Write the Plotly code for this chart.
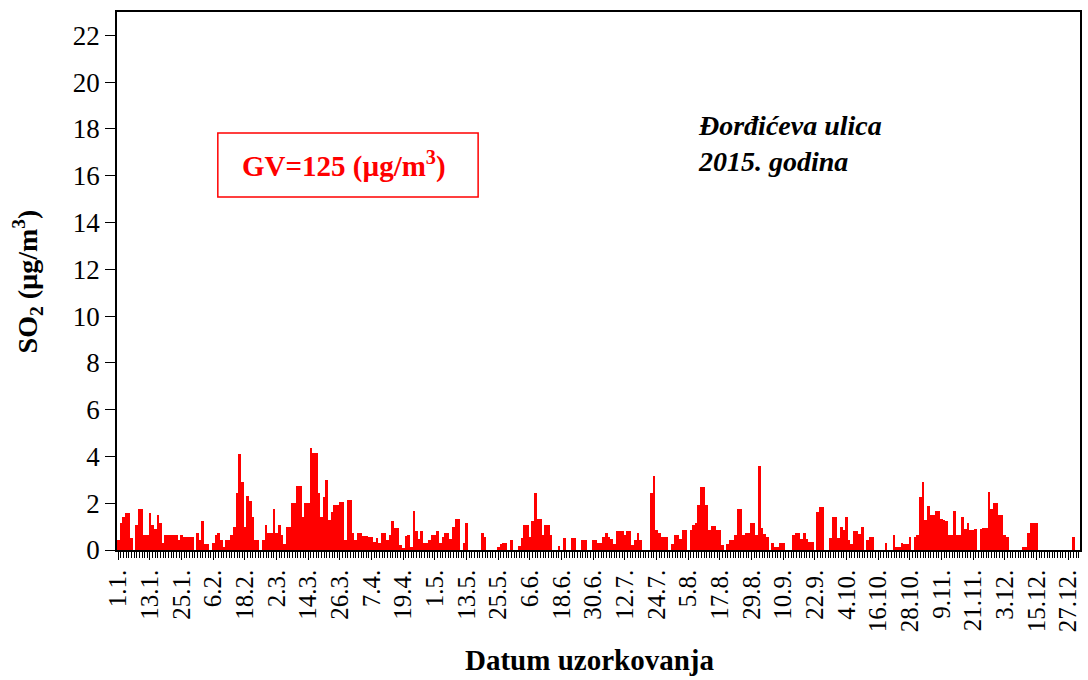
import plotly.graph_objects as go

# Daily SO2 concentrations (µg/m3), Đorđićeva ulica, 2015 (day index 0 = 1.1.)
so2_values = [
    0.43, 1.17, 1.4, 1.57, 1.57, 0.5, 0, 1.07, 1.74, 1.74,
    0.64, 0.64, 1.6, 1.07, 0.88, 1.5, 1.17, 0.31, 0.64, 0.64,
    0.64, 0.64, 0.64, 0.43, 0.64, 0.57, 0.57, 0.57, 0.57, 0,
    0.74, 0.43, 1.25, 0.26, 0.26, 0, 0.31, 0.64, 0.74, 0.43,
    0.11, 0.43, 0.43, 0.64, 0.97, 2.42, 4.1, 2.92, 0.97, 2.3,
    2.1, 1.4, 0.43, 0.43, 0, 0.43, 1.07, 0.74, 0.74, 1.74,
    0.74, 1.07, 0.64, 0.26, 0.97, 0.97, 2.0, 2.0, 2.74, 2.74,
    1.4, 2.0, 2.0, 4.34, 4.16, 4.16, 2.42, 1.4, 2.28, 3.0,
    1.28, 1.64, 1.92, 1.92, 2.07, 2.07, 0.43, 2.14, 2.14, 0.74,
    0.43, 0.74, 0.74, 0.6, 0.6, 0.57, 0.57, 0.36, 0.5, 0.31,
    0.74, 0.74, 0.43, 0.64, 1.25, 0.93, 0.93, 0.21, 0.07, 0.6,
    0.64, 0.14, 1.68, 0.83, 0.48, 0.83, 0.31, 0.31, 0.43, 0.64,
    0.64, 0.83, 0.31, 0.57, 0.71, 0.74, 0.46, 0.97, 1.31, 1.31,
    0, 0.31, 1.17, 0, 0, 0, 0, 0, 0.74, 0.57,
    0, 0, 0, 0, 0.14, 0.26, 0.31, 0.31, 0, 0.43,
    0, 0, 0.17, 0.5, 1.07, 1.07, 0.57, 1.25, 2.42, 1.31,
    1.31, 0.66, 1.07, 1.07, 0.66, 0, 0, 0.17, 0, 0.5,
    0, 0, 0.5, 0.5, 0, 0, 0.43, 0.43, 0, 0,
    0.43, 0.43, 0.31, 0.31, 0.57, 0.74, 0.57, 0.48, 0.26, 0.83,
    0.83, 0.83, 0.66, 0.83, 0.83, 0.21, 0.43, 0.74, 0.43, 0,
    0, 0, 2.42, 3.18, 0.85, 0.74, 0.57, 0.57, 0.57, 0,
    0.26, 0.64, 0.64, 0.48, 0.85, 0.85, 0, 0.85, 1.07, 1.17,
    1.92, 2.68, 2.68, 1.92, 0.85, 1.03, 1.03, 0.85, 0.85, 0.21,
    0, 0.26, 0.43, 0.43, 0.64, 1.74, 1.74, 0.64, 0.74, 0.74,
    1.17, 1.17, 0.64, 3.59, 0.93, 0.68, 0.57, 0, 0.31, 0.14,
    0.14, 0.31, 0.31, 0, 0, 0, 0.64, 0.74, 0.74, 0.48,
    0.74, 0.48, 0.36, 0.36, 0, 1.64, 1.82, 1.82, 0, 0,
    0.5, 1.4, 1.4, 0.5, 0.97, 0.85, 1.4, 0.43, 0.26, 0.83,
    0.83, 0.68, 0.97, 0, 0.43, 0.57, 0.57, 0, 0, 0,
    0, 0.31, 0, 0, 0.64, 0.14, 0.14, 0.31, 0.26, 0.26,
    0.57, 0, 0.57, 0.64, 2.25, 2.92, 1.28, 1.88, 1.5, 1.5,
    1.68, 1.68, 1.32, 1.28, 1.25, 0.66, 0.66, 1.68, 0.64, 0.64,
    1.4, 0.88, 1.17, 0.85, 0.85, 0.88, 0, 0.88, 0.93, 0.93,
    2.49, 1.74, 2.02, 2.02, 1.5, 1.5, 0.64, 0.57, 0, 0,
    0, 0, 0, 0.14, 0.14, 0.71, 1.17, 1.17, 1.17, 0,
    0, 0, 0, 0, 0, 0, 0, 0, 0, 0,
    0, 0, 0.57, 0, 0,
]
days = list(range(len(so2_values)))

tick_days = [0, 12, 24, 36, 48, 60, 72, 84, 96, 108, 120, 132, 144, 156, 168,
             180, 192, 204, 216, 228, 240, 252, 264, 276, 288, 300, 312, 324,
             336, 348, 360]
tick_labels = ["1.1.", "13.1.", "25.1.", "6.2.", "18.2.", "2.3.", "14.3.", "26.3.",
               "7.4.", "19.4.", "1.5.", "13.5.", "25.5.", "6.6.", "18.6.", "30.6.",
               "12.7.", "24.7.", "5.8.", "17.8.", "29.8.", "10.9.", "22.9.", "4.10.",
               "16.10.", "28.10.", "9.11.", "21.11.", "3.12.", "15.12.", "27.12."]

y_ticks = list(range(0, 23, 2))

SERIF = "Liberation Serif, Times New Roman, serif"

fig = go.Figure()
fig.add_trace(go.Bar(
    x=days, y=so2_values,
    marker=dict(color="#FF0000", line=dict(width=0)),
    showlegend=False,
))

fig.update_layout(
    width=1088, height=680,
    margin=dict(l=117, r=6, t=12, b=130),
    paper_bgcolor="white", plot_bgcolor="white",
    bargap=0,
    font=dict(family=SERIF, color="black"),
)

fig.update_xaxes(
    range=[-0.5, 364.5],
    tickmode="array", tickvals=tick_days, ticktext=tick_labels,
    tickangle=-90,
    tickfont=dict(family=SERIF, size=25, color="black"),
    ticks="outside", ticklen=8, tickwidth=1, tickcolor="black",
    minor=dict(dtick=1, tick0=0, ticks="outside", ticklen=6, tickwidth=1, tickcolor="black"),
    showline=True, linecolor="black", linewidth=1.5, mirror=True,
    showgrid=False, zeroline=False,
)
fig.update_yaxes(
    range=[0, 23],
    tickmode="array", tickvals=y_ticks,
    tickfont=dict(family=SERIF, size=27, color="black"),
    ticks="outside", ticklen=10, tickwidth=1, tickcolor="black",
    showline=True, linecolor="black", linewidth=1.5, mirror=True,
    showgrid=False, zeroline=False,
)

# Axis titles
fig.add_annotation(
    text="<b>SO<sub>2</sub> (µg/m<sup>3</sup>)</b>",
    xref="paper", yref="paper", x=-0.093, y=0.5,
    xanchor="center", yanchor="middle",
    textangle=-90, showarrow=False,
    font=dict(family=SERIF, size=28, color="black"),
)
fig.add_annotation(
    text="<b>Datum uzorkovanja</b>",
    xref="paper", yref="paper", x=0.491, y=-0.205,
    xanchor="center", yanchor="middle",
    showarrow=False,
    font=dict(family=SERIF, size=29, color="black"),
)

# Limit value box
fig.add_shape(
    type="rect", xref="paper", yref="paper",
    x0=0.1047, x1=0.375, y0=0.656, y1=0.775,
    line=dict(color="#FF0000", width=1.5), fillcolor="rgba(0,0,0,0)",
)
fig.add_annotation(
    text="<b>GV=125 (µg/m<sup>3</sup>)</b>",
    xref="paper", yref="paper", x=0.236, y=0.716,
    xanchor="center", yanchor="middle",
    showarrow=False,
    font=dict(family=SERIF, size=29, color="#FF0000"),
)

# Station / year label
fig.add_annotation(
    text="<b><i>Đorđićeva ulica<br>2015. godina</i></b>",
    xref="paper", yref="paper", x=0.601, y=0.822,
    xanchor="left", yanchor="top", align="left",
    showarrow=False,
    font=dict(family=SERIF, size=28, color="black"),
)

fig.write_html("out.html", config={"displayModeBar": False},
               post_script="document.body.style.margin='0';")
